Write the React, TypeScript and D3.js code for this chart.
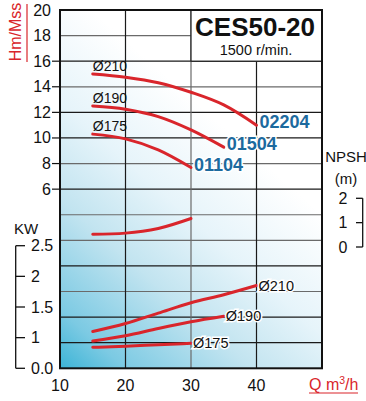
import React from "react";
import * as d3 from "d3";

// ---- data ----
const qTicks = [10, 20, 30, 40];
const qGrid = [20, 30, 40];
const headTicks = [6, 8, 10, 12, 14, 16, 18, 20];
const headGrid = [-6, -4, -2, 0, 2, 4, 6, 8, 10, 12, 14, 16, 18];
const headSmallTicks = [6, 8, 10, 12, 14, 16];
const kwTicks = [0.5, 1, 1.5, 2, 2.5];
const kwTickLabels = ["0.0", "1", "1.5", "2", "2.5"];
const npshTicks = [0, 1, 2];

const diameters = ["Ø210", "Ø190", "Ø175"];
const models = ["02204", "01504", "01104"];

const headQ = [
  [15, 20, 25, 30, 35, 40],
  [15, 20, 25, 30, 35],
  [15, 20, 25, 30],
];
const headH = [
  [15.0, 14.75, 14.32, 13.57, 12.58, 11.0],
  [12.5, 12.25, 11.67, 10.63, 9.28],
  [10.3, 9.93, 9.07, 7.69],
];
const powerQ = [
  [15, 20, 25, 30, 35, 40],
  [15, 20, 25, 30, 35],
  [15, 20, 25, 30],
];
const powerKW = [
  [1.1, 1.23, 1.4, 1.57, 1.7, 1.85],
  [0.945, 1.03, 1.15, 1.26, 1.35],
  [0.843, 0.859, 0.885, 0.908],
];
const npshQ = [15, 20, 25, 30];
const npshM = [0.52, 0.57, 0.76, 1.17];

const title = "CES50-20";
const subtitle = "1500 r/min.";

// ---- styles ----
const FONT = "'Liberation Sans Narrow', 'Arial Narrow', 'Liberation Sans', Arial, sans-serif";
const RED = "#d9252b";
const BLUE = "#1c6a9e";

export default function App() {
  const x = d3.scaleLinear().domain([10, 50]).range([60, 322]);
  const yH = d3.scaleLinear().domain([-8, 20]).range([368.3, 10]);
  const yKW = d3.scaleLinear().domain([0.5, 2.5]).range([368.3, 245.7]);
  const yN = d3.scaleLinear().domain([0, 2]).range([247, 198.3]);

  const headLine = (qs: number[], hs: number[]) =>
    d3.line<number>().x((d, i) => x(qs[i])).y((d) => yH(d)).curve(d3.curveMonotoneX)(hs) || "";
  const kwLine = (qs: number[], ks: number[]) =>
    d3.line<number>().x((d, i) => x(qs[i])).y((d) => yKW(d)).curve(d3.curveMonotoneX)(ks) || "";
  const npshPath =
    d3.line<number>().x((d, i) => x(npshQ[i])).y((d) => yN(d)).curve(d3.curveMonotoneX)(npshM) || "";

  const gridColor = (v: number) => ([16, 12, 10, 6, 0, -4, -6].includes(v) ? "#1a1a1a" : "#6a6a6a");

  return (
    <svg
      width={366}
      height={401}
      style={{ position: "absolute", left: 0, top: 0, background: "#fff" }}
      fontFamily={FONT}
    >
      <defs>
        <linearGradient id="bg" gradientUnits="userSpaceOnUse" x1={60} y1={368} x2={300} y2={98}>
          <stop offset="0" stopColor="#3cb4d6" />
          <stop offset="0.12" stopColor="#7ccae3" />
          <stop offset="0.35" stopColor="#c2e4f0" />
          <stop offset="0.55" stopColor="#e6f4fa" />
          <stop offset="0.8" stopColor="#ffffff" />
        </linearGradient>
      </defs>

      {/* plot background */}
      <rect x={x(10)} y={yH(20)} width={x(50) - x(10)} height={yH(-8) - yH(20)} fill="url(#bg)" />

      {/* horizontal grid */}
      {headGrid.map((v) => (
        <line
          key={"hg" + v}
          x1={x(10)}
          x2={v === 18 ? x(30) : x(50)}
          y1={yH(v)}
          y2={yH(v)}
          stroke={gridColor(v)}
          strokeWidth={1.2}
        />
      ))}
      {/* vertical grid */}
      {qGrid.map((q) => (
        <line
          key={"vg" + q}
          x1={x(q)}
          x2={x(q)}
          y1={q === 40 ? yH(16) : yH(20)}
          y2={yH(-8)}
          stroke={q === 30 ? "#6a6a6a" : "#1a1a1a"}
          strokeWidth={1.2}
        />
      ))}

      {/* title box */}
      <rect x={x(30)} y={yH(20)} width={x(50) - x(30)} height={yH(16) - yH(20)} fill="#fff" stroke="#1a1a1a" strokeWidth={1.2} />
      <text x={255} y={36} textAnchor="middle" fontSize={26} fontWeight="bold" fill="#111">
        {title}
      </text>
      <text x={256} y={55} textAnchor="middle" fontSize={14.5} fill="#111">
        {subtitle}
      </text>

      {/* plot border */}
      <rect x={x(10)} y={yH(20)} width={x(50) - x(10)} height={yH(-8) - yH(20)} fill="none" stroke="#111" strokeWidth={2} />

      {/* head axis */}
      {headSmallTicks.map((v) => (
        <line key={"ht" + v} x1={52} x2={x(10)} y1={yH(v)} y2={yH(v)} stroke="#111" strokeWidth={1.2} />
      ))}
      {headTicks.map((v) => (
        <text key={"hl" + v} x={51} y={yH(v) + 5.5} textAnchor="end" fontSize={16} fill="#111">
          {v}
        </text>
      ))}
      <text transform="translate(21,32) rotate(-90)" textAnchor="middle" fontSize={16} fill={RED}>
        Hm/Mss
      </text>
      <line x1={27} x2={27} y1={4} y2={62} stroke={RED} strokeWidth={1.2} />

      {/* KW axis */}
      <text x={14} y={234} fontSize={15} fill="#111">KW</text>
      <line x1={15.7} x2={15.7} y1={yKW(2.5)} y2={yKW(0.5)} stroke="#111" strokeWidth={1.3} />
      {kwTicks.map((v, i) => (
        <g key={"kw" + v}>
          <line x1={15.7} x2={25} y1={yKW(v)} y2={yKW(v)} stroke="#111" strokeWidth={1.3} />
          <text x={31} y={yKW(v) + 5.5} fontSize={16} fill="#111">
            {kwTickLabels[i]}
          </text>
        </g>
      ))}

      {/* NPSH axis */}
      <text x={346} y={162} textAnchor="middle" fontSize={15} fill="#111">NPSH</text>
      <text x={346} y={184} textAnchor="middle" fontSize={15} fill="#111">(m)</text>
      <line x1={362.7} x2={362.7} y1={yN(2)} y2={yN(0)} stroke="#111" strokeWidth={1.3} />
      {npshTicks.map((v) => (
        <g key={"np" + v}>
          <line x1={356} x2={362.7} y1={yN(v)} y2={yN(v)} stroke="#111" strokeWidth={1.3} />
          <text x={343} y={yN(v) + 5.5} textAnchor="middle" fontSize={16} fill="#111">
            {v}
          </text>
        </g>
      ))}

      {/* x axis */}
      {qTicks.map((q) => (
        <text key={"xl" + q} x={x(q)} y={391} textAnchor="middle" fontSize={16} fill="#111">
          {q}
        </text>
      ))}
      <text x={309} y={390} fontSize={16} fill={RED}>
        Q m<tspan dy={-6} fontSize={10.5}>3</tspan>
        <tspan dy={6}>/h</tspan>
      </text>
      <line x1={309} x2={358} y1={393} y2={393} stroke={RED} strokeWidth={1.2} />

      {/* head curves */}
      {headH.map((hs, i) => (
        <path key={"h" + i} d={headLine(headQ[i], hs)} fill="none" stroke={RED} strokeWidth={3} strokeLinecap="round" />
      ))}
      {/* power curves */}
      {powerKW.map((ks, i) => (
        <path key={"p" + i} d={kwLine(powerQ[i], ks)} fill="none" stroke={RED} strokeWidth={3} strokeLinecap="round" />
      ))}
      {/* NPSH curve */}
      <path d={npshPath} fill="none" stroke={RED} strokeWidth={3} strokeLinecap="round" />

      {/* diameter labels on head curves */}
      {diameters.map((d, i) => (
        <text key={"dl" + i} x={x(headQ[i][0])} y={yH(headH[i][0]) - 3} fontSize={14} fill="#111">
          {d}
        </text>
      ))}
      {/* model labels */}
      {models.map((m, i) => {
        const n = headQ[i].length - 1;
        return (
          <text
            key={"ml" + i}
            x={x(headQ[i][n]) + 3}
            y={yH(headH[i][n]) + 3}
            fontSize={18}
            fontWeight="bold"
            fill={BLUE}
            stroke="#fff"
            strokeWidth={3}
            paintOrder="stroke"
          >
            {m}
          </text>
        );
      })}
      {/* diameter labels on power curves */}
      {diameters.map((d, i) => {
        const n = powerQ[i].length - 1;
        return (
          <text
            key={"pl" + i}
            x={x(powerQ[i][n]) + 2}
            y={yKW(powerKW[i][n]) + 5}
            fontSize={14.5}
            fill="#111"
            stroke="#fff"
            strokeWidth={3}
            paintOrder="stroke"
          >
            {d}
          </text>
        );
      })}
    </svg>
  );
}
